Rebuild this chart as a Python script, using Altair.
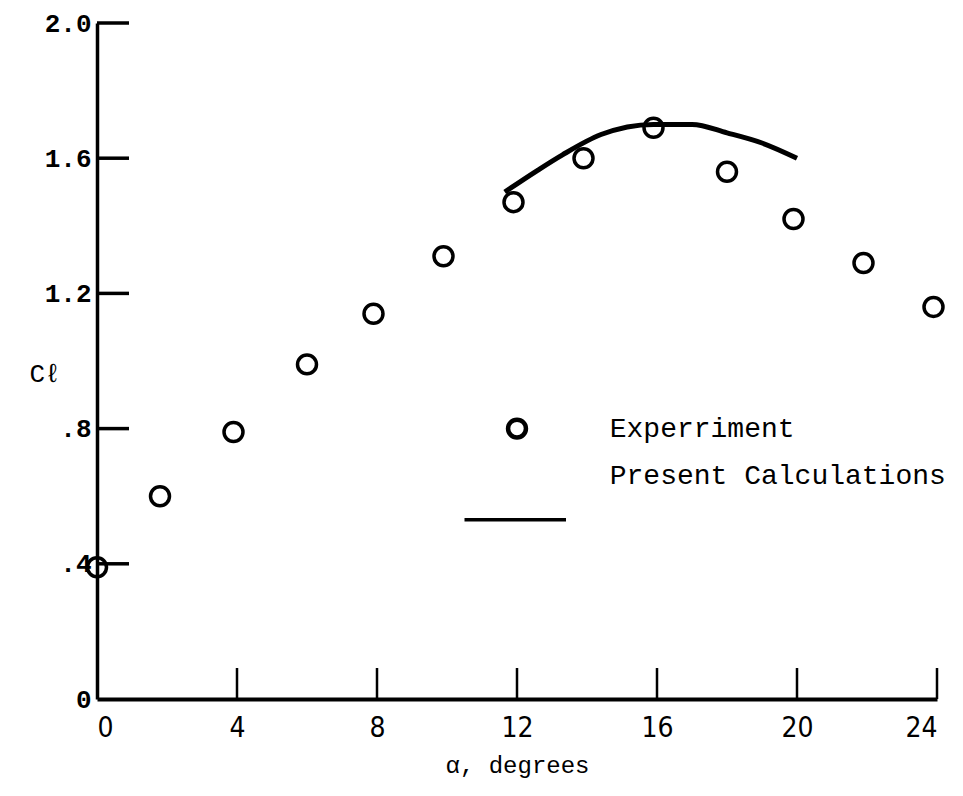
import altair as alt
import pandas as pd

# Experiment (open circles)
alpha_exp = [0.0, 1.8, 3.9, 6.0, 7.9, 9.9, 11.9, 13.9, 15.9, 18.0, 19.9, 21.9, 23.9]
cl_exp = [0.39, 0.60, 0.79, 0.99, 1.14, 1.31, 1.47, 1.60, 1.69, 1.56, 1.42, 1.29, 1.16]

# Present calculations (solid curve)
alpha_calc = [11.65, 12.6, 13.3, 14.4, 15.9, 17.0, 18.0, 19.0, 20.0]
cl_calc = [1.50, 1.565, 1.61, 1.67, 1.70, 1.70, 1.675, 1.645, 1.60]

# axis ticks / labels
x_ticks = [0, 4, 8, 12, 16, 20, 24]
y_ticks = [0, 0.4, 0.8, 1.2, 1.6, 2.0]
y_labels = ["0", ".4", ".8", "1.2", "1.6", "2.0"]
x_inner_ticks = [4, 8, 12, 16, 20, 24]
y_inner_ticks = [0.4, 0.8, 1.2, 1.6, 2.0]

# legend (placed inside the plot)
legend_labels = ["Experriment", "Present Calculations"]
legend_label_x = [14.65, 14.65]
legend_label_y = [0.80, 0.66]
legend_circle_x = [12.0]
legend_circle_y = [0.80]
legend_line_x = [10.5, 13.4]
legend_line_y = [0.53, 0.53]

exp_df = pd.DataFrame({"alpha": alpha_exp, "cl": cl_exp})
calc_df = pd.DataFrame({"alpha": alpha_calc, "cl": cl_calc})
xt_df = pd.DataFrame({"alpha": x_inner_ticks})
yt_df = pd.DataFrame({"cl": y_inner_ticks})
lab_df = pd.DataFrame({"alpha": legend_label_x, "cl": legend_label_y, "label": legend_labels})
lc_df = pd.DataFrame({"alpha": legend_circle_x, "cl": legend_circle_y})
ll_df = pd.DataFrame({"alpha": legend_line_x, "cl": legend_line_y})

ylab_expr = "[" + ",".join("'%s'" % s for s in y_labels) + "][round(datum.value/0.4)]"

xscale = alt.Scale(domain=[0, 24], nice=False, zero=False)
yscale = alt.Scale(domain=[0, 2.0], nice=False, zero=False)

xenc = alt.X(
    "alpha:Q",
    scale=xscale,
    axis=alt.Axis(
        values=x_ticks,
        title="α, degrees",
        ticks=False,
        grid=False,
        domainColor="black",
        domainWidth=4,
        labelFont="DejaVu Sans Condensed",
        labelFontSize=28,
        labelColor="black",
        labelPadding=15,
        titleFont="Liberation Mono",
        titleFontSize=24,
        titleFontWeight="normal",
        titleColor="black",
        titlePadding=11,
    ),
)
yenc = alt.Y(
    "cl:Q",
    scale=yscale,
    axis=alt.Axis(
        values=y_ticks,
        labelExpr=ylab_expr,
        title="Cℓ",
        titleAngle=0,
        titleX=-68,
        titleY=350,
        titleAlign="left",
        titleBaseline="middle",
        titleFont="Liberation Mono",
        titleFontSize=26,
        titleFontWeight="normal",
        titleColor="black",
        ticks=False,
        grid=False,
        domainColor="black",
        domainWidth=3.5,
        labelFont="Liberation Mono",
        labelFontWeight="bold",
        labelFontSize=26,
        labelColor="black",
        labelPadding=6,
    ),
)

points = alt.Chart(exp_df).mark_point(
    shape="circle", filled=False, size=360, strokeWidth=3.5, color="black", opacity=1
).encode(x=xenc, y=yenc)

curve = alt.Chart(calc_df).mark_line(
    color="black", strokeWidth=5, interpolate="monotone"
).encode(x="alpha:Q", y="cl:Q")

xticks = alt.Chart(xt_df).mark_tick(
    orient="vertical", size=31, thickness=2.5, yOffset=-15.5, color="black", opacity=1
).encode(x="alpha:Q", y=alt.datum(0))

yticks = alt.Chart(yt_df).mark_tick(
    orient="horizontal", size=32, thickness=3.5, xOffset=16, color="black", opacity=1
).encode(y="cl:Q", x=alt.datum(0))

leg_circle = alt.Chart(lc_df).mark_point(
    shape="circle", filled=False, size=320, strokeWidth=4.5, color="black", opacity=1
).encode(x="alpha:Q", y="cl:Q")

leg_line = alt.Chart(ll_df).mark_line(color="black", strokeWidth=3.5).encode(
    x="alpha:Q", y="cl:Q"
)

leg_text = alt.Chart(lab_df).mark_text(
    align="left", baseline="middle", font="Liberation Mono", fontSize=28, color="black"
).encode(x="alpha:Q", y="cl:Q", text="label:N")

chart = (
    alt.layer(points, curve, xticks, yticks, leg_circle, leg_line, leg_text)
    .properties(
        width=840,
        height=676,
        padding={"left": 21, "right": 5, "top": 2, "bottom": 6},
        background="white",
    )
    .configure_view(stroke=None)
)

chart.save("out.html", embed_options={"renderer": "svg", "actions": False})
